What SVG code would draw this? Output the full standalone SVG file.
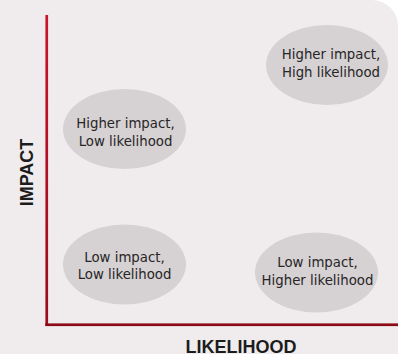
<svg xmlns="http://www.w3.org/2000/svg" width="398" height="354" viewBox="0 0 398 354">
<defs>
<linearGradient id="vgrad" x1="0" y1="0" x2="0" y2="1">
<stop offset="0" stop-color="#c8142c"/>
<stop offset="1" stop-color="#980c1a"/>
</linearGradient>
<style>
.node ellipse{fill:#d6d1d3;}
.node text{font-family:"DejaVu Sans","Liberation Sans",sans-serif;font-size:13.3px;fill:#262626;text-anchor:middle;}
.axis{font-family:"Liberation Sans",Arial,sans-serif;font-size:18px;font-weight:bold;fill:#1c1c1c;text-anchor:middle;}
</style>
</defs>
<rect x="0" y="0" width="398" height="354" fill="#ffffff"/>
<rect x="-40" y="0" width="438" height="400" rx="26" ry="26" fill="#f0ecee"/>
<g id="connectors">
<rect x="45.4" y="15" width="2.7" height="311" fill="url(#vgrad)"/>
<rect x="45.4" y="323.4" width="353" height="2.7" fill="#8c0a16"/>
</g>
<g id="node-hi-hl" class="node">
<ellipse cx="327" cy="65" rx="61" ry="40"/>
<text x="331" y="59.3">Higher impact,</text>
<text x="331" y="77.3">High likelihood</text>
</g>
<g id="node-hi-ll" class="node">
<ellipse cx="124.5" cy="129" rx="61.5" ry="40"/>
<text x="125.5" y="127.7">Higher impact,</text>
<text x="125.5" y="145.7">Low likelihood</text>
</g>
<g id="node-li-ll" class="node">
<ellipse cx="124.5" cy="264.5" rx="61.5" ry="40"/>
<text x="124.5" y="261.7">Low impact,</text>
<text x="124.5" y="279.3">Low likelihood</text>
</g>
<g id="node-li-hl" class="node">
<ellipse cx="316.5" cy="272.5" rx="61.5" ry="40"/>
<text x="317.5" y="266.7">Low impact,</text>
<text x="317.5" y="284.7">Higher likelihood</text>
</g>
<text class="axis" transform="translate(33,172.5) rotate(-90)">IMPACT</text>
<text class="axis" x="241" y="353.3">LIKELIHOOD</text>
</svg>
